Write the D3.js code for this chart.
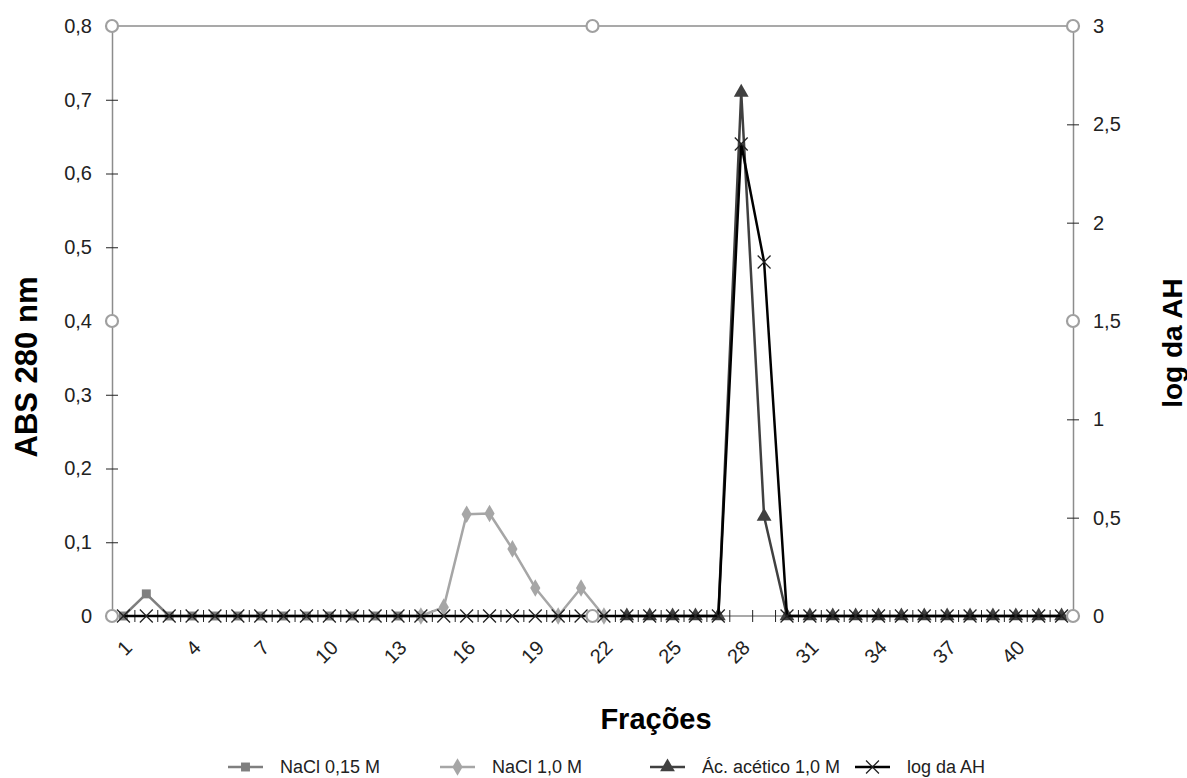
<!DOCTYPE html>
<html>
<head>
<meta charset="utf-8">
<script src="https://cdn.jsdelivr.net/npm/d3@7"></script>
<style>
  body { margin: 0; background: #fff; }
  svg { display: block; }
</style>
</head>
<body>
<svg></svg>
<script>
var width = 1187;
var height = 778;

// fractions 1..42
var fractions = d3.range(1, 43);
var xTickLabels = [1, 4, 7, 10, 13, 16, 19, 22, 25, 28, 31, 34, 37, 40];

var leftTicks = [0, 0.1, 0.2, 0.3, 0.4, 0.5, 0.6, 0.7, 0.8];
var rightTicks = [0, 0.5, 1, 1.5, 2, 2.5, 3];

// ABS 280 nm, fractions 1-14
var nacl015 = [0, 0.03, 0, 0, 0, 0, 0, 0, 0, 0, 0, 0, 0, 0];
// ABS 280 nm, fractions 14-22
var nacl10 = [0, 0.012, 0.138, 0.139, 0.091, 0.038, 0, 0.038, 0];
// ABS 280 nm, fractions 23-42
var acetico = [0, 0, 0, 0, 0, 0.71, 0.135, 0, 0, 0, 0, 0, 0, 0, 0, 0, 0, 0, 0, 0];
// log da AH, fractions 1-42
var logAH = [0, 0, 0, 0, 0, 0, 0, 0, 0, 0, 0, 0, 0, 0, 0, 0, 0, 0, 0, 0,
             0, 0, 0, 0, 0, 0, 0, 2.4, 1.8, 0, 0, 0, 0, 0, 0, 0, 0, 0, 0, 0, 0, 0];

var seriesNames = ['NaCl 0,15 M', 'NaCl 1,0 M', 'Ác. acético 1,0 M', 'log da AH'];

var pLeft = 112, pRight = 1073, pTop = 26, pBottom = 616;
var fmt = d => String(d).replace('.', ',');
var font = "'Liberation Sans', Arial, sans-serif";

var svg = d3.select('svg')
    .attr('width', width)
    .attr('height', height);

var x = d3.scaleBand()
    .domain(fractions)
    .range([pLeft, pRight]);

var yL = d3.scaleLinear().domain([0, 0.8]).range([pBottom, pTop]);
var yR = d3.scaleLinear().domain([0, 3]).range([pBottom, pTop]);

var cx = f => x(f) + x.bandwidth() / 2;

// top frame line
svg.append('line')
    .attr('x1', pLeft).attr('x2', pRight).attr('y1', pTop).attr('y2', pTop)
    .attr('stroke', '#8c8c8c').attr('stroke-width', 1.5);

// left axis
var gL = svg.append('g')
    .attr('transform', 'translate(' + pLeft + ',0)')
    .call(d3.axisLeft(yL).tickValues(leftTicks).tickFormat(fmt).tickSize(6).tickPadding(14));
gL.select('.domain').attr('stroke', '#8c8c8c').attr('stroke-width', 1.5);
gL.selectAll('.tick line').attr('x2', 6).attr('x1', -6).attr('stroke', '#222');
gL.selectAll('.tick text').style('font-family', font).style('font-size', '20px').attr('fill', '#222');

// right axis
var gR = svg.append('g')
    .attr('transform', 'translate(' + pRight + ',0)')
    .call(d3.axisRight(yR).tickValues(rightTicks).tickFormat(fmt).tickSize(6).tickPadding(14));
gR.select('.domain').attr('stroke', '#8c8c8c').attr('stroke-width', 1.5);
gR.selectAll('.tick line').attr('x1', -6).attr('x2', 6).attr('stroke', '#222');
gR.selectAll('.tick text').style('font-family', font).style('font-size', '20px').attr('fill', '#222');

// bottom axis: ticks between categories
var gB = svg.append('g')
    .attr('transform', 'translate(0,' + pBottom + ')');
gB.append('line')
    .attr('x1', pLeft).attr('x2', pRight)
    .attr('stroke', '#8c8c8c').attr('stroke-width', 1.5);
gB.selectAll('.btick')
    .data(fractions.slice(1))
    .enter().append('line')
    .attr('x1', d => x(d)).attr('x2', d => x(d))
    .attr('y1', -6).attr('y2', 6)
    .attr('stroke', '#222');
gB.selectAll('.blabel')
    .data(xTickLabels)
    .enter().append('text')
    .attr('transform', d => 'translate(' + (cx(d) + 5) + ',28) rotate(-45)')
    .attr('text-anchor', 'end')
    .attr('dy', '0.35em')
    .style('font-family', font)
    .style('font-size', '20px')
    .attr('fill', '#222')
    .text(d => d);

// series
var series = [
  { name: seriesNames[0], start: 1, values: nacl015, y: yL, color: '#7f7f7f', marker: 'square' },
  { name: seriesNames[1], start: 14, values: nacl10, y: yL, color: '#a6a6a6', marker: 'diamond' },
  { name: seriesNames[2], start: 23, values: acetico, y: yL, color: '#404040', marker: 'triangle' },
  { name: seriesNames[3], start: 1, values: logAH, y: yR, color: '#000', marker: 'x' }
];

var symbols = {
  square: d3.symbol().type(d3.symbolSquare).size(80),
  diamond: d3.symbol().type(d3.symbolDiamond).size(90),
  triangle: d3.symbol().type(d3.symbolTriangle).size(95),
  x: d3.symbol().type(d3.symbolX).size(110)
};

series.forEach(function(s) {
  var pts = s.values.map((v, i) => ({ f: s.start + i, v: v }));
  var line = d3.line().x(d => cx(d.f)).y(d => s.y(d.v));
  svg.append('path')
      .datum(pts)
      .attr('d', line)
      .attr('fill', 'none')
      .attr('stroke', s.color)
      .attr('stroke-width', 2.5)
      .attr('stroke-linejoin', 'round');
  svg.selectAll(null)
      .data(pts)
      .enter().append('path')
      .attr('transform', d => 'translate(' + cx(d.f) + ',' + s.y(d.v) + ')')
      .attr('d', symbols[s.marker])
      .attr('fill', s.marker === 'x' ? 'none' : s.color)
      .attr('stroke', s.marker === 'x' ? '#222' : 'none')
      .attr('stroke-width', 1.3);
});

// selection handles
var handles = [[pLeft, pTop], [(pLeft + pRight) / 2, pTop], [pRight, pTop],
               [pLeft, (pTop + pBottom) / 2], [pRight, (pTop + pBottom) / 2],
               [pLeft, pBottom], [(pLeft + pRight) / 2, pBottom], [pRight, pBottom]];
svg.selectAll('.handle')
    .data(handles)
    .enter().append('circle')
    .attr('cx', d => d[0]).attr('cy', d => d[1])
    .attr('r', 6)
    .attr('fill', '#fff')
    .attr('stroke', '#a0a0a0')
    .attr('stroke-width', 2.2);

// axis titles
svg.append('text')
    .attr('transform', 'translate(37,367) rotate(-90)')
    .attr('text-anchor', 'middle')
    .style('font-family', font)
    .style('font-weight', 'bold')
    .style('font-size', '31px')
    .text('ABS 280 nm');

svg.append('text')
    .attr('transform', 'translate(1182,343) rotate(-90)')
    .attr('text-anchor', 'middle')
    .style('font-family', font)
    .style('font-weight', 'bold')
    .style('font-size', '28px')
    .text('log da AH');

svg.append('text')
    .attr('x', 656)
    .attr('y', 729)
    .attr('text-anchor', 'middle')
    .style('font-family', font)
    .style('font-weight', 'bold')
    .style('font-size', '29px')
    .text('Frações');

// legend
var legendX = [228, 440, 650, 855];
var lg = svg.selectAll('.legend')
    .data(series)
    .enter().append('g')
    .attr('transform', (d, i) => 'translate(' + legendX[i] + ',767)');
lg.append('line')
    .attr('x1', 0).attr('x2', 35)
    .attr('stroke', d => d.color)
    .attr('stroke-width', 2.5);
lg.append('path')
    .attr('transform', 'translate(17.5,0)')
    .attr('d', d => symbols[d.marker]())
    .attr('fill', d => d.marker === 'x' ? 'none' : d.color)
    .attr('stroke', d => d.marker === 'x' ? '#222' : 'none')
    .attr('stroke-width', 1.3);
lg.append('text')
    .attr('x', 52)
    .attr('dy', '0.35em')
    .style('font-family', font)
    .style('font-size', '18px')
    .attr('fill', '#222')
    .text(d => d.name);
</script>
</body>
</html>
